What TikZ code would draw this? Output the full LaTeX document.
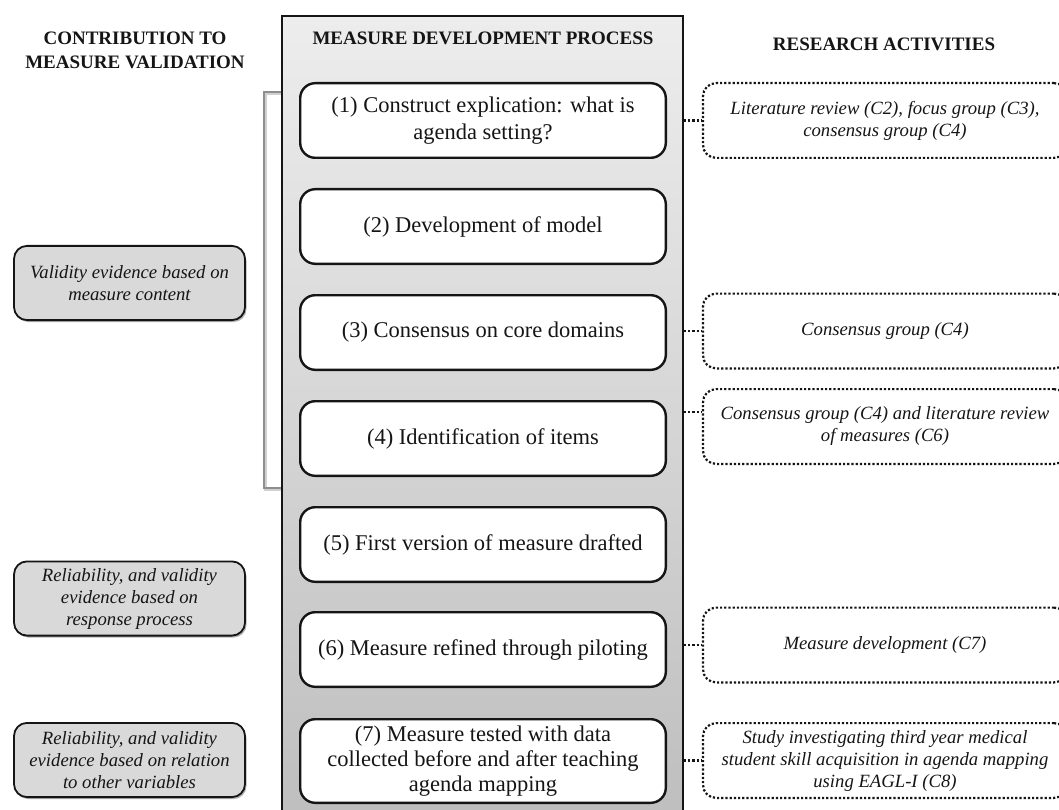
\documentclass[tikz,border=0pt]{standalone}
\usepackage{fontspec}
\setmainfont{Liberation Serif}
\usetikzlibrary{positioning,shadows}
\definecolor{FlowInk}{HTML}{151515}
\definecolor{FlowTop}{HTML}{EDEDED}
\definecolor{FlowBottom}{HTML}{BEBEBE}
\definecolor{FlowEvidence}{HTML}{D9D9D9}
\definecolor{FlowBracket}{HTML}{8E8E8E}
\definecolor{FlowShade}{HTML}{D0D0D0}
\tikzset{
  every node/.style={text=FlowInk},
  heading/.style={font=\bfseries\fontsize{19}{24}\selectfont, align=center},
  panel/.style={draw=FlowInk, line width=1.8pt, top color=FlowTop, bottom color=FlowBottom,
    minimum width=401pt, minimum height=808pt},
  stepbox/.style={draw=FlowInk, line width=2.4pt, fill=white, rounded corners=15pt,
    minimum width=365.6pt, minimum height=74.6pt, align=center,
    font=\fontsize{22.5}{27}\selectfont},
  evidence/.style={draw=FlowInk, line width=1.8pt, fill=FlowEvidence, rounded corners=13pt,
    minimum width=231pt, minimum height=74.2pt, align=center,
    font=\itshape\fontsize{18.7}{22}\selectfont,
    drop shadow={shadow xshift=1.5pt, shadow yshift=-2pt, opacity=0.3, fill=black}},
  activity/.style={draw=FlowInk, line width=2.2pt, dotted, rounded corners=13pt,
    minimum width=364pt, minimum height=74.8pt, align=center,
    font=\itshape\fontsize{18.7}{22}\selectfont},
  link/.style={draw=FlowInk, line width=2.2pt, dotted},
  bracket/.style={draw=FlowBracket, line width=1.6pt},
  bracketshade/.style={draw=FlowShade, line width=2.4pt},
}
\begin{document}
\begin{tikzpicture}[x=1pt, y=-1pt]
  \clip (0,0) rectangle (1059,810);
  \useasboundingbox (0,0) rectangle (1059,810);
  % Bracket grouping steps one to four
  \coordinate (btop) at (282,92);
  \coordinate (bbot) at (282,488);
  \draw[bracketshade] ([shift={(1.5pt,-1.5pt)}]btop) -- ++(-18,0) |- ([shift={(1.5pt,-1.5pt)}]bbot);
  \draw[bracket] (btop) -- ++(-18,0) |- (bbot);
  % Central panel with the development steps
  \node[panel] (proc) at (482.5,420) {};
  \node[heading] (hproc) at (483,38) {MEASURE DEVELOPMENT PROCESS};
  \node[stepbox] (s1) at (483,120.5) {(1) Construct explication: what is\\agenda setting?};
  \node[stepbox, below=29pt of s1] (s2) {(2) Development of model};
  \node[stepbox, below=29pt of s2] (s3) {(3) Consensus on core domains};
  \node[stepbox, below=29pt of s3] (s4) {(4) Identification of items};
  \node[stepbox, below=29pt of s4] (s5) {(5) First version of measure drafted};
  \node[stepbox, below=28pt of s5] (s6) {(6) Measure refined through piloting};
  \node[stepbox, below=30pt of s6, minimum height=83.6pt, font=\fontsize{22.5}{25}\selectfont] (s7)
    {(7) Measure tested with data\\collected before and after teaching\\agenda mapping};
  % Left column: contribution to validation
  \node[heading] (hcontrib) at (135,50) {CONTRIBUTION TO\\MEASURE VALIDATION};
  \node[evidence] (e1) at (129.5,283) {Validity evidence based on\\measure content};
  \node[evidence] (e2) at (129.5,598.5) {Reliability, and validity\\evidence based on\\response process};
  \node[evidence] (e3) at (129.5,760) {Reliability, and validity\\evidence based on relation\\to other variables};
  % Right column: research activities
  \node[heading] (hresearch) at (884,44) {RESEARCH ACTIVITIES};
  \node[activity] (r1) at (885,120.5) {Literature review (C2), focus group (C3),\\consensus group (C4)};
  \node[activity] (r3) at (885,331) {Consensus group (C4)};
  \node[activity] (r4) at (885,426.5) {Consensus group (C4) and literature review\\of measures (C6)};
  \node[activity] (r6) at (885,645) {Measure development (C7)};
  \node[activity] (r7) at (885,760.5) {Study investigating third year medical\\student skill acquisition in agenda mapping\\using EAGL-I (C8)};
  % Dotted links from the panel edge
  \coordinate (r4link) at ([yshift=14.5pt]r4.west);
  \draw[link] (proc.east |- r1.west) -- (r1.west);
  \draw[link] (proc.east |- r3.west) -- (r3.west);
  \draw[link] (proc.east |- r4link) -- (r4link);
  \draw[link] (proc.east |- r6.west) -- (r6.west);
  \draw[link] (proc.east |- r7.west) -- (r7.west);
\end{tikzpicture}
\end{document}
